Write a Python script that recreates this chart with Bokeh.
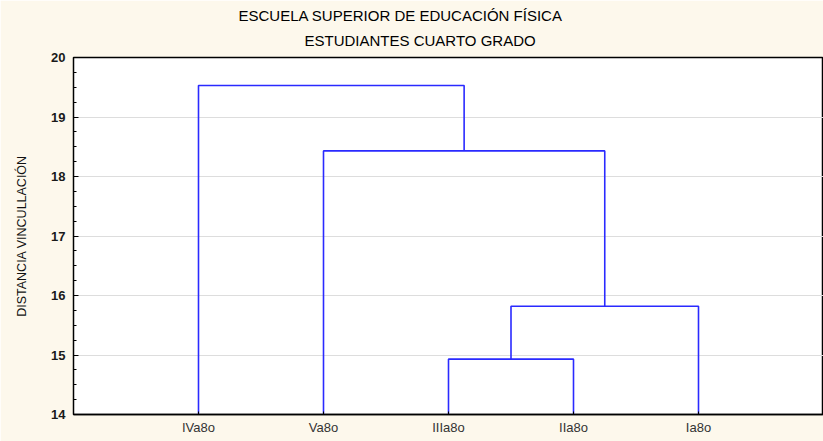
from bokeh.plotting import figure
from bokeh.models import Range1d, FixedTicker, Title
from bokeh.embed import file_html
from bokeh.resources import INLINE

# ---- data ----
leaves = ["IVa8o", "Va8o", "IIIa8o", "IIa8o", "Ia8o"]
# merges: (left cluster id, right cluster id, linkage distance); new clusters get ids 5,6,...
merge_left = [2, 5, 1, 0]
merge_right = [3, 4, 6, 7]
merge_height = [14.93, 15.82, 18.43, 19.53]
y_ticks = [14, 15, 16, 17, 18, 19, 20]
title_lines = ["ESCUELA SUPERIOR DE EDUCACIÓN FÍSICA", "ESTUDIANTES CUARTO GRADO"]
y_label = "DISTANCIA VINCULLACIÓN"

# ---- build dendrogram segments ----
pos = {i: (i + 1.0, 14.0) for i in range(len(leaves))}
xs, ys = [], []
for k, (a, b, h) in enumerate(zip(merge_left, merge_right, merge_height)):
    xa, ya = pos[a]
    xb, yb = pos[b]
    xs.append([xa, xa, xb, xb])
    ys.append([ya, h, h, yb])
    pos[len(leaves) + k] = ((xa + xb) / 2.0, h)

bg = "#fdf8ec"
FONT = "Liberation Sans"
p = figure(width=823, height=441, output_backend="svg", toolbar_location=None,
           x_range=Range1d(0, 6), y_range=Range1d(14, 20),
           min_border_left=73, min_border_right=0, min_border_top=57, min_border_bottom=27)
p.background_fill_color = "white"
p.border_fill_color = bg
p.outline_line_color = "black"
p.outline_line_width = 1.5

p.multi_line(xs, ys, line_color="#2a2aff", line_width=1.6)

# titles: p.title is the upper line, the added Title sits closest to the plot
p.title.text = title_lines[0]
p.title.align = "left"
p.title.offset = 165
p.title.text_font = FONT
p.title.text_font_size = "15px"
p.title.text_font_style = "normal"
p.title.text_color = "black"
p.title.standoff = -6
t2 = Title(text=title_lines[1], align="left", offset=231, text_font=FONT,
           text_font_size="15px", text_font_style="normal", text_color="black", standoff=18)
p.add_layout(t2, "above")

# y axis
yax = p.yaxis[0]
yax.ticker = FixedTicker(ticks=y_ticks,
                         minor_ticks=[14 + 0.25 * i for i in range(25)])
yax.major_tick_in = 5
yax.major_tick_out = 0
yax.minor_tick_in = 3
yax.minor_tick_out = 0
yax.axis_line_color = "black"
yax.major_label_text_font = FONT
yax.major_label_text_font_size = "13px"
yax.major_label_text_font_style = "bold"
yax.major_label_text_color = "#1a1a1a"
yax.major_label_standoff = 8
yax.axis_label = y_label
yax.axis_label_text_font = FONT
yax.axis_label_text_font_size = "12.5px"
yax.axis_label_text_font_style = "normal"
yax.axis_label_text_color = "#111111"
yax.axis_label_standoff = 19

# x axis
xax = p.xaxis[0]
xax.ticker = FixedTicker(ticks=[i + 1 for i in range(len(leaves))])
xax.major_label_overrides = {i + 1: lab for i, lab in enumerate(leaves)}
xax.major_tick_in = 3
xax.major_tick_out = 0
xax.minor_tick_line_color = None
xax.axis_line_color = "black"
xax.axis_line_width = 1.5
xax.major_label_text_font = FONT
xax.major_label_text_font_size = "13px"
xax.major_label_text_color = "#333333"
xax.major_label_standoff = 5

p.xgrid.grid_line_color = None
p.ygrid.grid_line_color = "#dddddd"
p.ygrid.ticker = FixedTicker(ticks=y_ticks)

open("out.html", "w").write(file_html(p, INLINE))
